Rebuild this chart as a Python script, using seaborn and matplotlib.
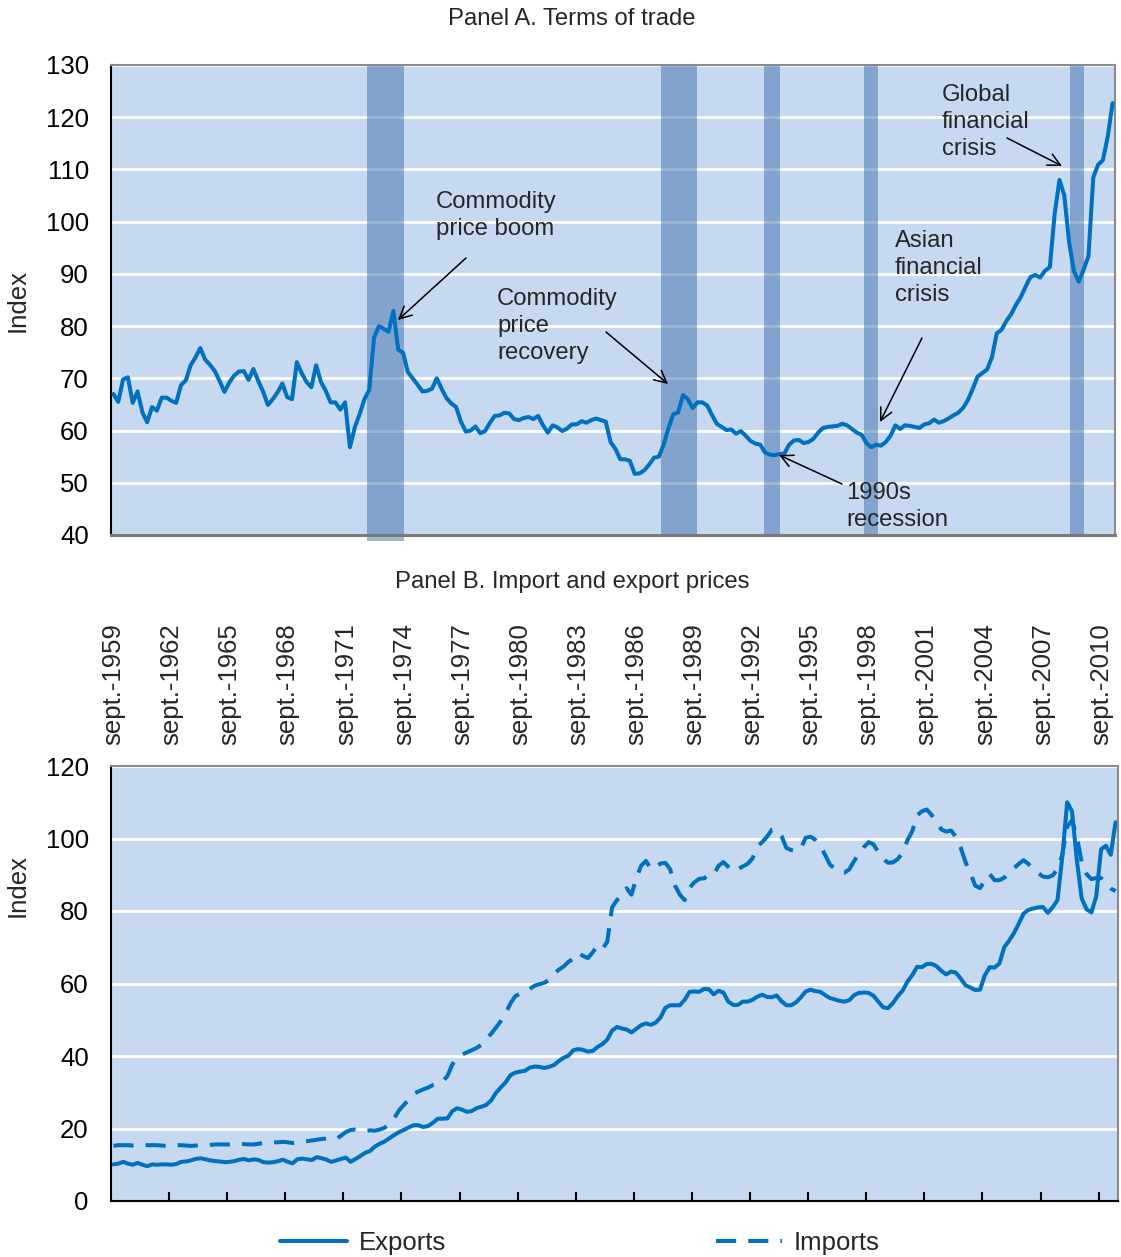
import numpy as np
import pandas as pd
import matplotlib
matplotlib.use('Agg')
import matplotlib.pyplot as plt
import seaborn as sns

# Quarterly series, sept.-1959 to june-2011 (208 quarters)
terms_of_trade = [
    67.0, 65.5, 69.8, 70.2, 65.3, 67.5, 63.5, 61.6, 64.5, 63.8,
    66.3, 66.3, 65.7, 65.3, 68.7, 69.6, 72.5, 74.0, 75.8, 73.6,
    72.6, 71.4, 69.5, 67.4, 69.2, 70.5, 71.3, 71.4, 69.7, 71.8,
    69.5, 67.5, 64.9, 66.0, 67.3, 69.0, 66.4, 66.0, 73.1, 71.0,
    69.3, 68.3, 72.5, 69.3, 67.6, 65.4, 65.4, 64.0, 65.4, 56.8,
    60.6, 63.1, 66.0, 67.8, 77.8, 80.0, 79.5, 78.9, 82.9, 75.5,
    74.9, 71.2, 70.0, 68.8, 67.5, 67.6, 68.0, 70.0, 68.0, 66.2,
    65.2, 64.5, 61.7, 59.8, 60.0, 60.8, 59.5, 59.9, 61.5, 62.8,
    62.9, 63.4, 63.3, 62.2, 62.0, 62.4, 62.6, 62.2, 62.8, 61.0,
    59.6, 61.0, 60.6, 59.9, 60.4, 61.2, 61.2, 61.8, 61.5, 62.0,
    62.3, 62.0, 61.7, 57.8, 56.5, 54.5, 54.5, 54.2, 51.7, 51.8,
    52.4, 53.5, 54.8, 55.0, 57.3, 60.5, 63.1, 63.5, 66.8, 66.0,
    64.3, 65.4, 65.4, 64.8, 63.0, 61.3, 60.7, 60.1, 60.2, 59.4,
    59.9, 59.0, 58.0, 57.5, 57.3, 55.8, 55.4, 55.3, 55.5, 55.6,
    57.3, 58.1, 58.2, 57.6, 57.8, 58.4, 59.6, 60.5, 60.7, 60.8,
    60.9, 61.3, 61.0, 60.3, 59.6, 59.2, 57.6, 56.8, 57.3, 57.1,
    57.8, 59.0, 61.0, 60.3, 61.0, 60.9, 60.7, 60.5, 61.2, 61.4,
    62.1, 61.5, 61.8, 62.3, 62.9, 63.4, 64.3, 65.8, 67.9, 70.3,
    71.0, 71.7, 74.0, 78.6, 79.3, 81.0, 82.3, 84.1, 85.6, 87.6,
    89.4, 89.8, 89.3, 90.6, 91.3, 101.5, 108.0, 105.0, 96.0, 90.5,
    88.5, 90.8, 93.4, 108.5, 110.9, 111.8, 116.3, 122.7,
]

exports = [
    10.1, 10.3, 10.8, 10.3, 10.0, 10.5, 10.0, 9.6, 10.1, 10.0,
    10.1, 10.1, 10.0, 10.2, 10.8, 10.9, 11.2, 11.6, 11.8, 11.5,
    11.2, 11.0, 10.9, 10.7, 10.8, 11.0, 11.4, 11.6, 11.2, 11.5,
    11.3, 10.7, 10.6, 10.7, 11.0, 11.4, 10.8, 10.4, 11.5, 11.7,
    11.5, 11.3, 12.1, 11.8, 11.4, 10.8, 11.2, 11.6, 12.0, 10.8,
    11.6, 12.4, 13.3, 13.8, 15.0, 15.8, 16.4, 17.3, 18.2, 19.0,
    19.6, 20.3, 20.9, 20.9, 20.4, 20.7, 21.6, 22.7, 22.7, 22.8,
    24.8, 25.6, 25.2, 24.6, 24.8, 25.6, 26.0, 26.5, 27.7, 29.8,
    31.3, 32.7, 34.7, 35.4, 35.7, 35.9, 36.8, 37.1, 37.0, 36.7,
    37.0, 37.5, 38.6, 39.5, 40.1, 41.6, 41.9, 41.7, 41.2, 41.4,
    42.5, 43.3, 44.5, 47.0, 48.0, 47.6, 47.3, 46.5, 47.5, 48.5,
    49.0, 48.6, 49.2, 50.6, 53.3, 54.0, 54.0, 54.0, 55.5, 57.7,
    57.8, 57.7, 58.5, 58.4, 57.0, 58.0, 57.5, 55.0, 54.1, 54.1,
    55.0, 55.0, 55.5, 56.4, 56.9, 56.3, 56.2, 56.7, 55.1, 54.0,
    54.0, 54.8, 56.2, 57.8, 58.3, 57.9, 57.7, 56.8, 56.0, 55.6,
    55.2, 55.0, 55.4, 56.8, 57.4, 57.5, 57.4, 56.6, 55.0, 53.4,
    53.2, 54.6, 56.5, 58.0, 60.5, 62.3, 64.6, 64.5, 65.4, 65.4,
    64.8, 63.5, 62.5, 63.3, 63.0, 61.4, 59.5, 58.9, 58.2, 58.3,
    62.3, 64.5, 64.4, 65.5, 70.0, 71.8, 73.9, 76.5, 79.3, 80.3,
    80.7, 81.0, 81.1, 79.5, 81.0, 83.0, 95.0, 110.0, 107.5, 94.0,
    83.5, 80.5, 79.6, 84.0, 97.0, 98.0, 95.5, 104.5,
]

imports = [
    15.2, 15.4, 15.4, 15.4, 15.3, 15.4, 15.4, 15.4, 15.4, 15.4,
    15.3, 15.2, 15.2, 15.4, 15.4, 15.3, 15.2, 15.3, 15.4, 15.4,
    15.5, 15.6, 15.6, 15.6, 15.6, 15.7, 15.8, 15.7, 15.6, 15.6,
    15.8, 16.0, 16.1, 16.2, 16.2, 16.3, 16.2, 16.0, 16.1, 16.3,
    16.5, 16.7, 16.9, 17.1, 17.2, 17.0, 17.1, 18.0, 19.0, 19.6,
    19.7, 19.4, 19.3, 19.5, 19.4, 19.7, 20.2, 21.2, 22.9, 25.0,
    26.5, 28.0, 29.6, 30.2, 30.8, 31.3, 32.0, 32.3, 33.0, 34.5,
    37.7, 39.3, 40.4, 41.0, 41.6, 42.2, 43.1, 44.7, 46.1, 47.8,
    49.6, 51.7, 54.5, 56.5, 57.2, 57.7, 58.5, 59.4, 59.8, 60.2,
    61.0, 62.7, 63.8, 64.7, 66.0, 66.8, 68.5, 67.6, 67.0, 68.6,
    70.4, 69.5, 71.5, 81.0, 83.0, 84.2, 86.3, 84.5, 89.0, 92.5,
    93.8, 91.6, 92.0, 93.1, 93.3, 91.5, 87.0, 84.5, 83.0, 86.4,
    87.9, 88.9, 89.0, 90.0, 90.0, 92.5, 93.5, 92.2, 91.0, 91.5,
    92.3, 93.0, 94.5, 97.8, 99.0, 100.5, 102.4, 102.4, 100.7, 97.4,
    96.8, 96.5, 97.3, 100.2, 100.5, 99.6, 98.0, 95.5, 92.8, 91.7,
    90.8, 90.6, 91.5, 93.8, 95.8, 97.6, 99.0, 98.4, 96.2, 94.4,
    93.3, 93.4, 94.3, 96.0, 99.5, 102.0, 106.4, 107.5, 108.0, 106.5,
    104.5, 102.5, 101.9, 102.2, 100.5, 97.5, 93.5, 90.5, 87.0, 86.3,
    88.5, 90.2, 88.5, 88.5, 89.2, 90.5, 91.8, 93.0, 94.0, 93.0,
    91.5, 90.5, 89.5, 89.3, 89.8, 91.5, 95.5, 103.3, 105.0, 100.5,
    93.5, 90.2, 88.8, 89.1, 89.1, 87.5, 86.2, 85.5,
]

tick_labels = [
    'sept.-1959', 'sept.-1962', 'sept.-1965', 'sept.-1968', 'sept.-1971',
    'sept.-1974', 'sept.-1977', 'sept.-1980', 'sept.-1983', 'sept.-1986',
    'sept.-1989', 'sept.-1992', 'sept.-1995', 'sept.-1998', 'sept.-2001',
    'sept.-2004', 'sept.-2007', 'sept.-2010',
]

# shaded episodes, in quarter index units
shade_start = [52.6, 113.4, 134.8, 155.5, 198.2]
shade_end = [60.2, 120.9, 138.2, 158.3, 201.1]

n = len(terms_of_trade)
df = pd.DataFrame({'q': np.arange(n), 'tot': terms_of_trade,
                   'exports': exports, 'imports': imports})

sns.set_theme(style='white')
plt.rcParams['font.family'] = ['Liberation Sans', 'DejaVu Sans']

BLUE = '#0070C0'
BG = '#C6D9F0'
W, H = 1121, 1257

fig = plt.figure(figsize=(W / 100, H / 100), dpi=100)
axA = fig.add_axes([111 / W, 1 - 535 / H, 1004 / W, 470 / H])
axB = fig.add_axes([111 / W, 1 - 1201 / H, 1007 / W, 435 / H])

for ax in (axA, axB):
    ax.set_facecolor(BG)
    ax.set_axisbelow(True)
    ax.yaxis.grid(True, color='white', lw=2)
    ax.xaxis.grid(False)
    ax.set_xlim(-0.5, n - 0.5)
    ax.spines['left'].set_color('black')
    ax.spines['left'].set_linewidth(1.5)
    for s in ('top', 'right'):
        ax.spines[s].set_color('#8a8a8a')
        ax.spines[s].set_linewidth(1.5)
    ax.tick_params(axis='y', length=0, pad=16, labelsize=18.5, colors='black')

# Panel A
for i, (s0, s1) in enumerate(zip(shade_start, shade_end)):
    axA.axvspan(s0, s1, ymin=-0.012 if i == 0 else 0, color='#3F6EAE',
                alpha=0.5, lw=0, zorder=1, clip_on=(i != 0))
sns.lineplot(data=df, x='q', y='tot', ax=axA, color=BLUE, linewidth=2.9, zorder=3)
axA.set_ylim(40, 130)
axA.set_yticks(range(40, 131, 10))
axA.set_xticks([])
axA.set_xlabel('')
axA.set_ylabel('Index', fontsize=18.5)
axA.yaxis.set_label_coords(-0.0807, 0.5)
axA.spines['bottom'].set_color('#7a7a7a')
axA.spines['bottom'].set_linewidth(2.2)


def px2d(px, py):
    return (px - 111) / 4.827 - 0.5, 40 + (535 - py) / 5.222


notes = [
    ('Commodity\nprice boom', (436, 191), (466, 258), (398, 320)),
    ('Commodity\nprice\nrecovery', (497, 288), (606, 332), (668, 384)),
    ('Asian\nfinancial\ncrisis', (895, 230), (922, 338), (880, 422)),
    ('Global\nfinancial\ncrisis', (942, 84), (1007, 138), (1062, 166)),
    ('1990s\nrecession', (846, 482), (842, 484), (779, 455)),
]
for txt, tpos, tail, head in notes:
    axA.text(*px2d(*tpos), txt, ha='left', va='top', fontsize=17.2,
             linespacing=1.28, zorder=5)
    axA.annotate('', xy=px2d(*head), xytext=px2d(*tail),
                 arrowprops=dict(arrowstyle='->', color='black', lw=1.1,
                                 mutation_scale=22, shrinkA=0, shrinkB=0),
                 zorder=5)

# Panel B
sns.lineplot(data=df, x='q', y='exports', ax=axB, color=BLUE, linewidth=2.9,
             label='Exports')
sns.lineplot(data=df, x='q', y='imports', ax=axB, color=BLUE, linewidth=2.9,
             linestyle=(0, (5, 3)), label='Imports')
axB.set_ylim(0, 120)
axB.set_yticks(range(0, 121, 20))
axB.set_xlabel('')
axB.set_ylabel('Index', fontsize=18.5)
axB.yaxis.set_label_coords(-0.0804, 0.726)
axB.spines['bottom'].set_color('black')
axB.spines['bottom'].set_linewidth(1.5)

label_pos = np.arange(0, n, 12)
axB.set_xticks(np.arange(11.5, n - 1, 12))
axB.set_xticklabels([])
axB.set_xticks(label_pos, minor=True)
axB.set_xticklabels(tick_labels, minor=True)
axB.tick_params(axis='x', which='major', direction='in', length=6.5, width=1.5,
                color='black', bottom=True, top=False)
axB.tick_params(axis='x', which='minor', length=0, bottom=False, top=False,
                labelbottom=False, labeltop=True, labelrotation=90,
                labelsize=18.5, pad=15)

handles, labels = axB.get_legend_handles_labels()
axB.get_legend().remove()
fig.legend(handles, labels, loc='center', bbox_to_anchor=(580 / W, 1 - 1243 / H),
           ncol=2, frameon=False, fontsize=18.5, handlelength=2.6,
           handletextpad=0.45, columnspacing=10.5, borderaxespad=0)

fig.text(572 / W, 1 - 19 / H, 'Panel A. Terms of trade', ha='center', va='center',
         fontsize=17.2)
fig.text(572 / W, 1 - 582 / H, 'Panel B. Import and export prices', ha='center',
         va='center', fontsize=17.2)

fig.savefig('out.png', dpi=100)
